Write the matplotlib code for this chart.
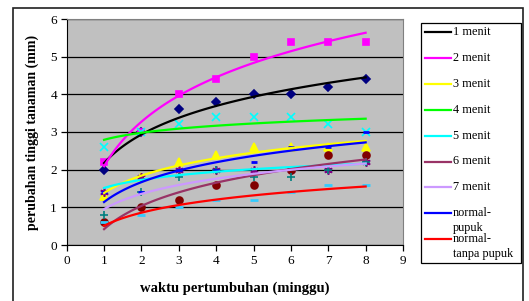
import matplotlib
matplotlib.use("Agg")
import matplotlib.pyplot as plt
import numpy as np
from matplotlib.patches import Rectangle
from matplotlib.lines import Line2D

plt.rcParams['font.family'] = ['Liberation Serif', 'DejaVu Serif']

# data: weeks vs height change (mm)
minggu = [1, 2, 3, 4, 5, 6, 7, 8]
labels = ['1 menit', '2 menit', '3 menit', '4 menit', '5 menit', '6 menit', '7 menit',
          'normal-\npupuk', 'normal-\ntanpa pupuk']
menit_1 = [2.0, 3.0, 3.6, 3.8, 4.0, 4.0, 4.2, 4.4]
menit_2 = [2.2, 3.0, 4.0, 4.4, 5.0, 5.4, 5.4, 5.4]
menit_3 = [1.3, 1.8, 2.2, 2.4, 2.6, 2.6, 2.6, 2.6]
menit_4 = [2.6, 3.0, 3.2, 3.4, 3.4, 3.4, 3.2, 3.0]
menit_5 = [1.4, 1.8, 2.0, 2.0, 2.0, 2.0, 2.0, 2.2]
menit_6 = [0.6, 1.0, 1.2, 1.6, 1.6, 2.0, 2.4, 2.4]
menit_7 = [0.8, 1.4, 1.8, 2.0, 1.8, 1.8, 2.0, 2.2]
normal_pupuk = [1.4, 1.4, 2.0, 2.0, 2.2, 2.6, 2.6, 3.0]
normal_tanpa = [0.6, 0.8, 1.0, 1.2, 1.2, 1.4, 1.6, 1.6]
series = [menit_1, menit_2, menit_3, menit_4, menit_5, menit_6, menit_7,
          normal_pupuk, normal_tanpa]

# marker style (Excel default) and trendline colour per series
markers = [('D', '#000080', 4), ('s', '#FF00FF', 5), ('^', '#FFFF00', 6),
           ('x', '#00FFFF', 6), ((6, 2, 0), '#800080', 6), ('o', '#800000', 5),
           ('+', '#008080', 6), ('_', '#0000FF', 5), ('_', '#33CCFF', 6)]
trend_colors = ['#000000', '#FF00FF', '#FFFF00', '#00FF00', '#00FFFF',
                '#993366', '#CC99FF', '#0000FF', '#FF0000']

fig = plt.figure(figsize=(5.29, 3.01), dpi=100)
W, H = 529, 301

# outer chart border
fig.patches.append(Rectangle((13 / W, -0.1), 510 / W, 1 - 8 / H + 0.1,
                             transform=fig.transFigure, fill=False,
                             edgecolor='#202020', linewidth=1.2))

ax = fig.add_axes([66.7 / W, 56 / H, 336.3 / W, 226 / H])
ax.set_facecolor('#C0C0C0')
ax.set_xlim(0, 9)
ax.set_ylim(0, 6)
ax.set_xticks(range(0, 10))
ax.set_yticks(range(0, 7))
for s in ['top', 'right']:
    ax.spines[s].set_color('#808080')
for s in ['left', 'bottom']:
    ax.spines[s].set_color('black')
ax.yaxis.grid(True, color='black', linewidth=0.9)
ax.set_axisbelow(True)
ax.tick_params(direction='out', length=4, width=0.9, labelsize=9.5, pad=3)

x = np.array(minggu, dtype=float)
xs = np.linspace(1, 8, 100)
for vals, (m, c, ms), tc in zip(series, markers, trend_colors):
    mew = 2 if m == '_' else 1.2
    ax.plot(x, vals, linestyle='none', marker=m, color=c, markersize=ms,
            markeredgewidth=mew, zorder=3, clip_on=False)
    # logarithmic trendline, as in the original spreadsheet
    b, a = np.polyfit(np.log(x), vals, 1)
    ax.plot(xs, a + b * np.log(xs), color=tc, linewidth=1.6, zorder=4)

ax.set_xlabel('waktu pertumbuhan (minggu)', fontsize=10.5, fontweight='bold', labelpad=11)
ax.set_ylabel('perubahan tinggi tanaman (mm)', fontsize=10, fontweight='bold', labelpad=8)

# legend box drawn by hand so two-line labels keep the line on the first row
fig.patches.append(Rectangle((421 / W, 1 - 263 / H), 100 / W, 240 / H,
                             transform=fig.transFigure, facecolor='white',
                             edgecolor='black', linewidth=0.9))
y0, step = 32, 25.9
for i, (lab, tc) in enumerate(zip(labels, trend_colors)):
    yp = 1 - (y0 + i * step) / H
    fig.lines.append(Line2D([425 / W, 451 / W], [yp, yp], color=tc, linewidth=1.6,
                            transform=fig.transFigure))
    for j, part in enumerate(lab.split('\n')):
        fig.text(453 / W, yp - j * 15 / H, part, fontsize=8.8, va='center', ha='left')

fig.savefig('out.png', dpi=100)
